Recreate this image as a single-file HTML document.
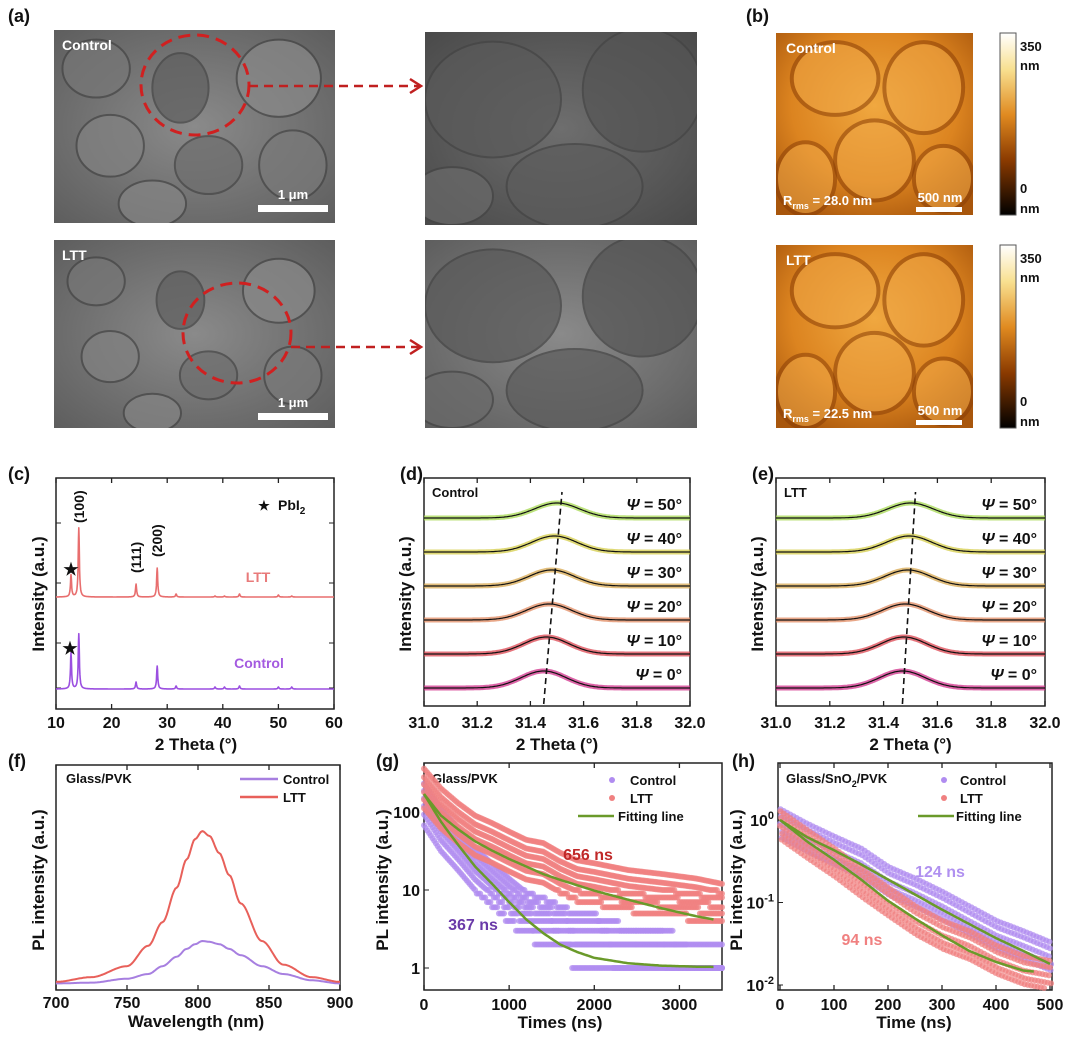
<!DOCTYPE html>
<html><head><meta charset="utf-8">
<style>
body{margin:0;background:#fff;}
svg text{font-family:"Liberation Sans",Arial,sans-serif;font-weight:bold;}
</style></head>
<body>
<svg id="fig" width="1080" height="1034" viewBox="0 0 1080 1034" xmlns="http://www.w3.org/2000/svg">
<defs>
<radialGradient id="semA" cx="50%" cy="50%" r="70%"><stop offset="0" stop-color="#8a8a8a"/><stop offset="1" stop-color="#5e5e5e"/></radialGradient>
<radialGradient id="semB" cx="50%" cy="50%" r="70%"><stop offset="0" stop-color="#6e6e6e"/><stop offset="1" stop-color="#4a4a4a"/></radialGradient>
<radialGradient id="afm" cx="50%" cy="40%" r="70%"><stop offset="0" stop-color="#f0a840"/><stop offset="0.6" stop-color="#dc8420"/><stop offset="1" stop-color="#a8560c"/></radialGradient>
<linearGradient id="cbar" x1="0" y1="1" x2="0" y2="0"><stop offset="0" stop-color="#000"/><stop offset="0.3" stop-color="#8a3a00"/><stop offset="0.55" stop-color="#e08a20"/><stop offset="0.8" stop-color="#f8e090"/><stop offset="1" stop-color="#fff"/></linearGradient>
</defs>
<g id="root"></g>
</svg>
<script>
const NS="http://www.w3.org/2000/svg";
const root=document.getElementById('root');
function mk(tag,attrs,parent,txt){const e=document.createElementNS(NS,tag);for(const k in attrs)e.setAttribute(k,attrs[k]);if(txt!==undefined)e.textContent=txt;(parent||root).appendChild(e);return e;}

// ---------- data ----------
const xrdPeakPos=[12.7,14.1,24.4,28.2,31.6,38.6,40.3,43.0,50.0,52.4];
const xrdLTT=[22,69,13,29,3,1,1,3,2,1];
const xrdControl=[36,55,7,23,3,2,2,3,2,2];
const psiLabels=["0°","10°","20°","30°","40°","50°"];
const psiCentersD=[31.45,31.46,31.47,31.48,31.49,31.50];
const psiCentersE=[31.47,31.475,31.48,31.49,31.495,31.50];
const psiHeights=[17,17,16,16,16,15];
const psiColors=["#d0308a","#dc4650","#e08a60","#d8a850","#d4cc48","#a6d850"];
const plWave=[700,725,750,765,775,785,792,798,803,808,815,822,830,845,860,880,900];
const plLTT=[0.02,0.05,0.12,0.25,0.4,0.62,0.8,0.93,0.98,0.95,0.84,0.7,0.52,0.28,0.13,0.05,0.02];
const plControl=[0.01,0.015,0.04,0.07,0.12,0.18,0.23,0.26,0.28,0.275,0.26,0.23,0.19,0.12,0.07,0.03,0.01];
const gTimes=[0,200,400,600,800,1000,1200,1400,1600,1800,2000,2400,2800,3200,3500];
const gFitControl=[170,75,38,20,12,7,4.2,2.8,2.0,1.6,1.35,1.15,1.07,1.04,1.03];
const gFitLTT=[170,90,60,42,32,25,20,16,13.5,11.5,9.8,7.5,5.8,4.6,4.0];
const gScatterControl=[150,70,40,22,14,9,6,5,4,3,3,2,2,1,1];
const gScatterLTT=[180,100,65,45,36,28,22,20,15,12,11,9,8,7,6];
const hTimes=[0,50,100,150,200,250,300,350,400,450,500];
const hFitControl=[1.0,0.62,0.43,0.29,0.19,0.125,0.082,0.055,0.037,0.026,0.018];
const hFitLTT=[1.0,0.55,0.33,0.19,0.105,0.064,0.04,0.026,0.019,0.015,0.014];
const hScatterControl=[0.9,0.6,0.42,0.3,0.18,0.13,0.09,0.06,0.04,0.03,0.022];
const hScatterLTT=[0.85,0.5,0.3,0.17,0.1,0.06,0.04,0.03,0.02,0.015,0.013];

// ---------- helpers ----------
function lin(d0,d1,r0,r1){return v=>r0+(v-d0)/(d1-d0)*(r1-r0);}
function logs(d0,d1,r0,r1){return v=>r0+(Math.log10(v)-Math.log10(d0))/(Math.log10(d1)-Math.log10(d0))*(r1-r0);}
function frame(x0,y0,x1,y1,name){const r=mk('rect',{x:x0,y:y0,width:x1-x0,height:y1-y0,fill:'none',stroke:'#222','stroke-width':1.5});}
function txt(x,y,s,size,anchor,fill,name,extra){const t=mk('text',Object.assign({x:x,y:y,'font-size':size,'text-anchor':anchor||'start',fill:fill||'#111'},extra||{}),root,s);return t;}
function xticks(vals,sx,y1,yTop,labelY,fmt,name){vals.forEach(v=>{mk('line',{x1:sx(v),x2:sx(v),y1:y1,y2:y1-5,stroke:'#222','stroke-width':1.3});mk('line',{x1:sx(v),x2:sx(v),y1:yTop,y2:yTop+5,stroke:'#222','stroke-width':1.3});txt(sx(v),labelY,fmt(v),16,'middle','#111',name);});}
function path(pts,stroke,w,name){const p=mk('path',{d:'M'+pts.map(p=>p[0].toFixed(1)+','+p[1].toFixed(1)).join('L'),fill:'none',stroke:stroke,'stroke-width':w,'stroke-linejoin':'round'});return p;}
function interpArr(xs,ys,x){if(x<=xs[0])return ys[0];for(let i=1;i<xs.length;i++){if(x<=xs[i]){const t=(x-xs[i-1])/(xs[i]-xs[i-1]);const s=t*t*(3-2*t);return ys[i-1]+s*(ys[i]-ys[i-1]);}}return ys[ys.length-1];}
function interpLog(xs,ys,x){if(x<=xs[0])return ys[0];for(let i=1;i<xs.length;i++){if(x<=xs[i]){const t=(x-xs[i-1])/(xs[i]-xs[i-1]);return Math.pow(10,Math.log10(ys[i-1])+t*(Math.log10(ys[i])-Math.log10(ys[i-1])));}}return ys[ys.length-1];}

// ---------- panel (a) SEM ----------
txt(8,22,'(a)',18,'start','#111','panel-label-a');
function sem(x,y,w,h,grad,name,label,grains){
  const g=mk('g',{});
  mk('rect',{x:x,y:y,width:w,height:h,fill:'url(#'+grad+')'},g);
  const cp='clip-'+name;const c=mk('clipPath',{id:cp},g);mk('rect',{x:x,y:y,width:w,height:h},c);
  const gg=mk('g',{'clip-path':'url(#'+cp+')'},g);
  grains.forEach(c=>mk('ellipse',{cx:x+c[0]*w,cy:y+c[1]*h,rx:c[2]*w,ry:c[3]*h,fill:c[4],stroke:'#444','stroke-width':2,opacity:0.7},gg));
  if(label)txt(x+8,y+20,label,14,'start','#fff',name+'-label');
}
const grainsA=[[0.15,0.2,0.12,0.15,'#777'],[0.45,0.3,0.1,0.18,'#5f5f5f'],[0.8,0.25,0.15,0.2,'#8a8a8a'],[0.2,0.6,0.12,0.16,'#828282'],[0.55,0.7,0.12,0.15,'#6e6e6e'],[0.85,0.7,0.12,0.18,'#7a7a7a'],[0.35,0.9,0.12,0.12,'#858585']];
const grainsZ=[[0.25,0.35,0.25,0.3,'#5a5a5a'],[0.8,0.3,0.22,0.32,'#555'],[0.55,0.8,0.25,0.22,'#5c5c5c'],[0.1,0.85,0.15,0.15,'#6a6a6a']];
sem(54,30,281,193,'semA','sem-control-image','Control',grainsA);
sem(425,32,272,193,'semB','sem-control-zoom',null,grainsZ);
sem(54,240,281,188,'semA','sem-ltt-image','LTT',grainsA.map(g=>[g[0],g[1]+0.02,g[2]*0.85,g[3]*0.85,g[4]]));
sem(425,240,272,188,'semA','sem-ltt-zoom',null,grainsZ);
mk('ellipse',{cx:195,cy:85,rx:54,ry:50,fill:'none',stroke:'#d02020','stroke-width':3,'stroke-dasharray':'12,7'});
mk('ellipse',{cx:237,cy:333,rx:54,ry:50,fill:'none',stroke:'#d02020','stroke-width':3,'stroke-dasharray':'12,7'});
[[249,86],[291,347]].forEach((p,i)=>{const l=mk('line',{x1:p[0],y1:p[1],x2:420,y2:p[1],stroke:'#c02020','stroke-width':2.5,'stroke-dasharray':'9,6'});mk('path',{d:`M${410},${p[1]-7}L${421},${p[1]}L${410},${p[1]+7}`,fill:'none',stroke:'#c02020','stroke-width':2.5});});
[[258,205],[258,413]].forEach((p,i)=>{mk('rect',{x:p[0],y:p[1],width:70,height:7,fill:'#fff'});txt(p[0]+35,p[1]-6,'1 μm',13,'middle','#fff','scale-label-sem-'+i);});

// ---------- panel (b) AFM ----------
txt(746,22,'(b)',18,'start','#111','panel-label-b');
function afm(y,h,label,rms,name){
  const g=mk('g',{});
  mk('rect',{x:776,y:y,width:197,height:h,fill:'url(#afm)'},g);
  const cp='clip-'+name;const c=mk('clipPath',{id:cp},g);mk('rect',{x:776,y:y,width:197,height:h},c);
  const gg=mk('g',{'clip-path':'url(#'+cp+')'},g);
  [[0.3,0.25,0.22,0.2],[0.75,0.3,0.2,0.25],[0.5,0.7,0.2,0.22],[0.15,0.8,0.15,0.2],[0.85,0.8,0.15,0.18]].forEach(c=>mk('ellipse',{cx:776+c[0]*197,cy:y+c[1]*h,rx:c[2]*197,ry:c[3]*h,fill:'#f0a848',stroke:'#8a3e06','stroke-width':4,opacity:0.55},gg));
  txt(786,y+20,label,14,'start','#fff',name+'-label');
  const t=txt(783,y+h-10,'',13,'start','#fff',name+'-rms');
  t.innerHTML='R<tspan font-size="9" dy="4">rms</tspan><tspan dy="-4"> = '+rms+'</tspan>';
  mk('rect',{x:916,y:y+h-8,width:46,height:5,fill:'#fff'},g);
  txt(940,y+h-13,'500 nm',13,'middle','#fff',name+'-scale-label');
  mk('rect',{x:1000,y:y,width:16,height:h,fill:'url(#cbar)',stroke:'#555','stroke-width':1});
  txt(1020,y+18,'350',13,'start','#111',name+'-cbar-max');txt(1020,y+37,'nm',13,'start','#111',name+'-cbar-max-unit');
  txt(1020,y+h-22,'0',13,'start','#111',name+'-cbar-min');txt(1020,y+h-2,'nm',13,'start','#111',name+'-cbar-min-unit');
}
afm(33,182,'Control','28.0 nm','afm-control');
afm(245,183,'LTT','22.5 nm','afm-ltt');

// ---------- panel (c) XRD ----------
(function(){
  const X0=56,X1=334,Y0=478,Y1=709;
  txt(8,480,'(c)',18,'start','#111','panel-label-c');
  frame(X0,Y0,X1,Y1,'xrd-plot-frame');
  const sx=lin(10,60,X0,X1);
  xticks([10,20,30,40,50,60],sx,Y1,Y0,728,v=>v,'xrd-x-tick');
  [523,583,643,688].forEach(y=>{mk('line',{x1:X0,x2:X0+5,y1:y,y2:y,stroke:'#222'});mk('line',{x1:X1,x2:X1-5,y1:y,y2:y,stroke:'#222'});});
  txt(196,750,'2 Theta (°)',17,'middle','#111','xrd-x-title');
  txt(44,594,'Intensity (a.u.)',17,'middle','#111','xrd-y-title',{transform:'rotate(-90 44 594)'});
  function spec(heights,base,color,name){const pts=[];for(let x=10;x<=60;x+=0.05){let y=0;xrdPeakPos.forEach((p,i)=>{y+=heights[i]/(1+Math.pow((x-p)/0.12,2));});pts.push([sx(x),base-y]);}path(pts,color,1.6,name);}
  spec(xrdLTT,597,'#e86e6e','xrd-ltt-line');
  spec(xrdControl,689,'#9b4fe0','xrd-control-line');
  txt(258,582,'LTT',14,'middle','#e87a7a','xrd-ltt-label');
  txt(259,668,'Control',14,'middle','#a45ae0','xrd-control-label');
  txt(71,575,'★',17,'middle','#111','pbi2-star-ltt');txt(70,654,'★',17,'middle','#111','pbi2-star-control');
  txt(264,510,'★',13,'middle','#111','legend-star');
  const pl=txt(278,510,'',14,'start','#111','legend-pbi2');pl.innerHTML='PbI<tspan font-size="10" dy="4">2</tspan>';
  [['(100)',sx(14.1)+5,523],['(111)',sx(24.4)+5,573],['(200)',sx(28.2)+5,557]].forEach((a,i)=>txt(a[1],a[2],a[0],14,'start','#111','xrd-peak-label-'+i,{transform:`rotate(-90 ${a[1]} ${a[2]})`}));
})();

// ---------- panels (d),(e) ----------
function strain(X0,X1,label,panel,centers){
  const Y0=478,Y1=706;
  txt(X0-24,480,panel,18,'start','#111','panel-label-'+panel.replace(/[()]/g,''));
  frame(X0,Y0,X1,Y1,'strain-frame-'+label);
  const sx=lin(31.0,32.0,X0,X1);
  xticks([31.0,31.2,31.4,31.6,31.8,32.0],sx,Y1,Y0,728,v=>v.toFixed(1),'strain-x-tick-'+label);
  txt((X0+X1)/2,750,'2 Theta (°)',17,'middle','#111','strain-x-title-'+label);
  txt(X0-13,594,'Intensity (a.u.)',17,'middle','#111','strain-y-title-'+label,{transform:`rotate(-90 ${X0-13} 594)`});
  txt(X0+8,497,label,13,'start','#111','strain-sample-label-'+label);
  const bases=[688,654,620,586,552,518];
  centers.forEach((c,i)=>{
    const pts=[];
    for(let x=31.0;x<=32.0001;x+=0.005){const y=bases[i]-psiHeights[i]*Math.exp(-Math.pow((x-c)/0.085,2)/2);pts.push([sx(x),y]);}
    path(pts,psiColors[i],5,'strain-data-'+label+'-psi'+i).setAttribute('opacity','0.75');
    path(pts,'#111',1.2,'strain-fit-'+label+'-psi'+i);
    txt(X1-8,bases[i]-8,'',16,'end','#111','psi-label-'+label+'-'+i).innerHTML='<tspan font-style="italic">Ψ</tspan> = '+psiLabels[i];
  });
  const top=centers[5],bot=centers[0];
  mk('line',{x1:sx(bot),y1:bases[0]+16,x2:sx(top)+5,y2:bases[5]-26,stroke:'#111','stroke-width':1.6,'stroke-dasharray':'6,4'});
}
strain(424,690,'Control','(d)',psiCentersD);
strain(776,1045,'LTT','(e)',psiCentersE);

// ---------- panel (f) PL ----------
(function(){
  const X0=56,X1=340,Y0=765,Y1=990;
  txt(8,767,'(f)',18,'start','#111','panel-label-f');
  frame(X0,Y0,X1,Y1,'pl-frame');
  const sx=lin(700,900,X0,X1),sy=lin(0,1,985,828);
  xticks([700,750,800,850,900],sx,Y1,Y0,1008,v=>v,'pl-x-tick');
  txt(196,1027,'Wavelength (nm)',17,'middle','#111','pl-x-title');
  txt(44,880,'PL intensity (a.u.)',17,'middle','#111','pl-y-title',{transform:'rotate(-90 44 880)'});
  txt(66,783,'Glass/PVK',13,'start','#111','pl-sample-label');
  const mkPts=arr=>{const p=[];for(let w=700;w<=900;w+=1)p.push([sx(w),sy(interpArr(plWave,arr,w))]);return p;};
  path(mkPts(plControl),'#a77fe0',2,'pl-control-line');
  path(mkPts(plLTT),'#e8605a',2,'pl-ltt-line');
  mk('line',{x1:240,x2:278,y1:779,y2:779,stroke:'#a77fe0','stroke-width':2.5});txt(283,784,'Control',13,'start','#111','pl-legend-control');
  mk('line',{x1:240,x2:278,y1:797,y2:797,stroke:'#e8605a','stroke-width':2.5});txt(283,802,'LTT',13,'start','#111','pl-legend-ltt');
})();

// ---------- panel (g) TRPL ----------
(function(){
  const X0=424,X1=722,Y0=763,Y1=990;
  txt(376,767,'(g)',18,'start','#111','panel-label-g');
  frame(X0,Y0,X1,Y1,'trpl-g-frame');
  const sx=lin(0,3500,X0,X1),sy=logs(1,100,968,812);
  xticks([0,1000,2000,3000],sx,Y1,Y0,1010,v=>v,'trpl-g-x-tick');
  [[100,'100'],[10,'10'],[1,'1']].forEach(t=>{mk('line',{x1:X0,x2:X0+5,y1:sy(t[0]),y2:sy(t[0]),stroke:'#222'});txt(X0-4,sy(t[0])+6,t[1],16,'end','#111','trpl-g-y-tick');});
  txt(560,1028,'Times (ns)',17,'middle','#111','trpl-g-x-title');
  txt(388,880,'PL intensity (a.u.)',17,'middle','#111','trpl-g-y-title',{transform:'rotate(-90 388 880)'});
  txt(432,783,'Glass/PVK',13,'start','#111','trpl-g-sample-label');
  function dots(arr,color,name,spread){const g=mk('g',{});
    for(let t=0;t<=3500;t+=20){const v=interpLog(gTimes,arr,t);const mults=[1,1.25,1.55,0.8,0.62,spread];mults.forEach(m=>{let vv=v*m;if(vv<10){vv=Math.round(vv);if(vv<1)return;}const y=sy(vv);if(y<Y0+2||y>Y1-2)return;mk('circle',{cx:sx(t),cy:y,r:3,fill:color,opacity:0.75},g);});}}
  dots(gScatterControl,'#b08cf0','trpl-g-control-dots',0.45);
  dots(gScatterLTT,'#f08080','trpl-g-ltt-dots',2.0);
  const fit=arr=>{const p=[];for(let t=0;t<=3400;t+=20)p.push([sx(t),sy(interpLog(gTimes,arr,t))]);return p;};
  path(fit(gFitControl),'#6a9a2a',2.5,'trpl-g-fit-control');
  path(fit(gFitLTT),'#6a9a2a',2.5,'trpl-g-fit-ltt');
  txt(588,860,'656 ns',16,'middle','#c02828','trpl-g-ltt-lifetime');
  txt(473,930,'367 ns',16,'middle','#6a3aa8','trpl-g-control-lifetime');
  mk('circle',{cx:612,cy:780,r:3,fill:'#b08cf0'});txt(630,785,'Control',13,'start','#111','trpl-g-legend-control');
  mk('circle',{cx:612,cy:798,r:3,fill:'#f08080'});txt(630,803,'LTT',13,'start','#111','trpl-g-legend-ltt');
  mk('line',{x1:578,x2:614,y1:816,y2:816,stroke:'#6a9a2a','stroke-width':2.5});txt(618,821,'Fitting line',13,'start','#111','trpl-g-legend-fit');
})();

// ---------- panel (h) TRPL ----------
(function(){
  const X0=778,X1=1052,Y0=763,Y1=990;
  txt(732,767,'(h)',18,'start','#111','panel-label-h');
  frame(X0,Y0,X1,Y1,'trpl-h-frame');
  const sx=lin(0,500,780,1050),sy=logs(0.01,1,985,820);
  xticks([0,100,200,300,400,500],sx,Y1,Y0,1010,v=>v,'trpl-h-x-tick');
  [[1,'0'],[0.1,'-1'],[0.01,'-2']].forEach(t=>{mk('line',{x1:X0,x2:X0+5,y1:sy(t[0]),y2:sy(t[0]),stroke:'#222'});txt(X0-4,sy(t[0])+6,'',16,'end','#111','trpl-h-y-tick').innerHTML='10<tspan font-size="11" dy="-7">'+t[1]+'</tspan>';});
  txt(914,1028,'Time (ns)',17,'middle','#111','trpl-h-x-title');
  txt(742,880,'PL intensity (a.u.)',17,'middle','#111','trpl-h-y-title',{transform:'rotate(-90 742 880)'});
  txt(786,783,'',13,'start','#111','trpl-h-sample-label').innerHTML='Glass/SnO<tspan font-size="9" dy="4">2</tspan><tspan dy="-4">/PVK</tspan>';
  function dots(arr,color,name){const g=mk('g',{});
    for(let t=0;t<=500;t+=6){const v=interpLog(hTimes,arr,t);[[1,0],[1.25,2],[0.8,4],[1.5,1],[0.68,3]].forEach(m=>{const y=sy(v*m[0]);if(y>Y1-2||y<Y0+2)return;mk('circle',{cx:sx(t+m[1]),cy:y,r:3,fill:color,opacity:0.75},g);});}}
  dots(hScatterControl,'#b08cf0','trpl-h-control-dots');
  dots(hScatterLTT,'#f08080','trpl-h-ltt-dots');
  const fit=(arr,tm)=>{const p=[];for(let t=0;t<=tm;t+=5)p.push([sx(t),sy(interpLog(hTimes,arr,t))]);return p;};
  path(fit(hFitControl,500),'#6a9a2a',2.5,'trpl-h-fit-control');
  path(fit(hFitLTT,470),'#6a9a2a',2.5,'trpl-h-fit-ltt');
  txt(940,877,'124 ns',16,'middle','#b090f0','trpl-h-control-lifetime');
  txt(862,945,'94 ns',16,'middle','#f08080','trpl-h-ltt-lifetime');
  mk('circle',{cx:944,cy:780,r:3,fill:'#b08cf0'});txt(960,785,'Control',13,'start','#111','trpl-h-legend-control');
  mk('circle',{cx:944,cy:798,r:3,fill:'#f08080'});txt(960,803,'LTT',13,'start','#111','trpl-h-legend-ltt');
  mk('line',{x1:918,x2:954,y1:816,y2:816,stroke:'#6a9a2a','stroke-width':2.5});txt(956,821,'Fitting line',13,'start','#111','trpl-h-legend-fit');
})();
</script>
</body></html>
